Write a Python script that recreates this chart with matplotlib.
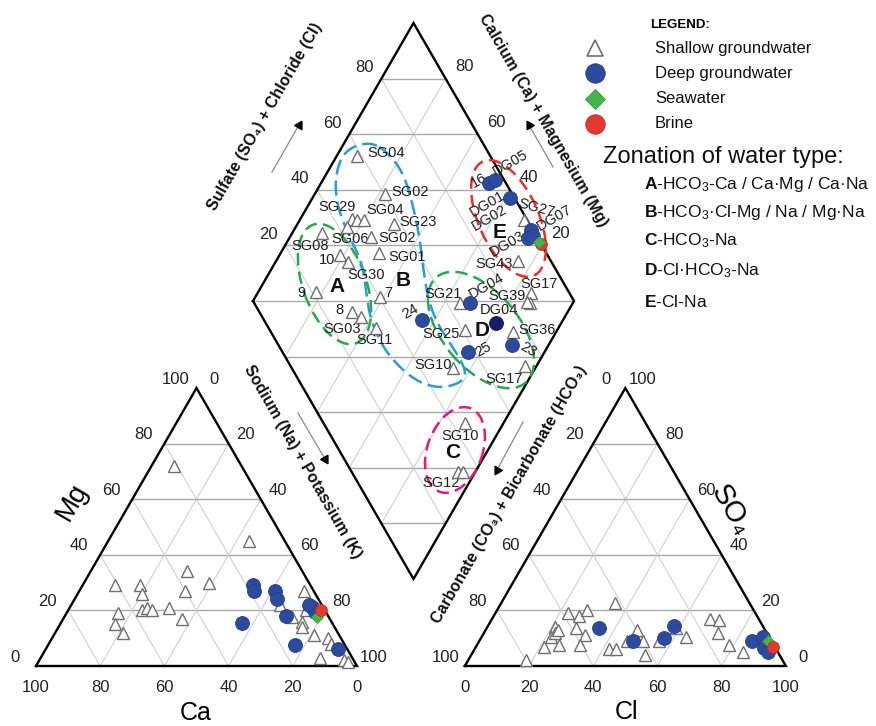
import numpy as np
import matplotlib
matplotlib.use("Agg")
import matplotlib.pyplot as plt
from matplotlib.patches import Ellipse

plt.rcParams['font.family'] = ['Liberation Sans', 'DejaVu Sans']
plt.rcParams['mathtext.fontset'] = 'custom'
plt.rcParams['mathtext.rm'] = 'Liberation Sans'
plt.rcParams['mathtext.bf'] = 'Liberation Sans:bold'
plt.rcParams['mathtext.it'] = 'Liberation Sans:italic'

# ---------------- data (percent) ----------------
# cation triangle: Ca, Mg, Na+K
shallow_ca = [21, 11, 36, 31, 40, 61, 53, 54, 57, 55, 54, 48, 46, 65, 68, 67,
              3, 13, 11.5, 9, 10, 8, 4, 4, 10, 3, 2, 6]
shallow_mg = [72, 45, 34, 30, 27, 29, 29, 26, 20, 21, 20, 21, 17, 19, 15, 12,
              27, 22, 17.7, 16, 14, 11, 10, 8, 3, 2, 1.5, 20]
shallow_na = [7, 44, 30, 39, 33, 10, 18, 20, 23, 24, 26, 31, 37, 16, 17, 21,
              70, 65, 70.8, 75, 76, 81, 86, 88, 87, 95, 96.5, 74]
deep_ca = [18, 18.5, 12, 13, 13, 28, 15.5, 3.5, 3.4, 3, 4]
deep_mg = [29, 27, 27, 24, 18, 15.5, 7.5, 21.3, 19.5, 6, 22]
deep_na = [53, 54.5, 61, 63, 69, 56.5, 77, 75.2, 77.1, 91, 74]
sea_cat = [3.6, 17.5, 78.9]      # Ca, Mg, Na
brine_cat = [1.3, 20.1, 78.6]

# anion triangle: HCO3+CO3, SO4, Cl
shallow_hco3 = [42, 58.5, 55.5, 52, 65, 58.5, 57, 68, 67, 72, 60.5, 80, 52, 50,
                40, 40, 42, 45, 35, 27.5, 26, 15, 12.5, 15, 14, 11, 66, 64.5]
shallow_so4 = [22.5, 19, 18, 20, 14, 13.5, 11, 10.5, 7.5, 7, 7.5, 2, 6, 6,
               13, 9, 4, 9, 9, 13.5, 10.5, 17, 16.5, 12, 7.5, 5, 12, 13]
shallow_cl = [35.5, 22.5, 26.5, 28, 21, 28, 32, 21.5, 25.5, 21, 32, 18, 42, 44,
              47, 51, 54, 46, 56, 59, 63.5, 68, 71, 73, 78.5, 84, 22, 22.5]
deep_hco3 = [51.5, 43, 33, 27.5, 6, 2, 3.5, 3]
deep_so4 = [13.5, 9, 10, 14.5, 9, 10.5, 6.5, 5]
deep_cl = [35, 48, 57, 58, 85, 87.5, 90, 92]
sea_an = [1, 9, 90]              # HCO3, SO4, Cl
brine_an = [0.5, 7, 92.5]

# diamond: Na+K (%) and SO4+Cl (%)
dia_sh_names = ["SG04", "SG02", "SG29", "", "SG04", "SG23", "SG06", "SG08",
                "SG02", "SG01", "10", "SG30", "9", "7", "8", "SG03", "SG11",
                "SG27", "SG43", "SG17", "SG39", "", "SG21", "SG36", "SG25",
                "SG10", "SG17", "SG10", "SG12", ""]
dia_sh_na = [6.5, 21.8, 16.0, 17.9, 20.1, 30.0, 15.8, 9.1, 25.3, 30.6, 18.8,
             22.6, 17.9, 38.8, 32.6, 36.4, 43.2, 69.8, 75.5, 85.2, 86.7, 85.5,
             64.8, 86.4, 71.2, 74.5, 96.3, 87.9, 94.7, 96.2]
dia_sh_an = [58.5, 60.4, 45.4, 47.1, 49.1, 57.8, 42.6, 33.7, 48.3, 48.0, 35.4,
             36.8, 21.3, 40.4, 28.8, 30.8, 33.4, 99.0, 89.8, 88.0, 85.9, 85.0,
             64.2, 75.4, 60.8, 50.3, 73.0, 44.1, 33.3, 34.8]
dia_dp_names = ["24", "16", "DG05", "DG01", "DG07", "DG03", "", "DG04", "23", "25"]
dia_dp_na = [56.0, 52.4, 53.6, 61.6, 74.0, 74.5, 75.5, 68.0, 88.5, 76.3]
dia_dp_an = [49.2, 94.8, 97.2, 98.6, 99.5, 97.0, 98.9, 67.2, 72.7, 57.9]
dia_navy = [79.6, 71.8]          # DG04 (second)
dia_sea = [78.5, 99.8]
dia_brine = [79.5, 99.9]

ticks = [0, 20, 40, 60, 80, 100]
zone_labels = [r"$\mathbf{A}$-HCO$_3$-Ca / Ca·Mg / Ca·Na",
               r"$\mathbf{B}$-HCO$_3$·Cl-Mg / Na / Mg·Na",
               r"$\mathbf{C}$-HCO$_3$-Na",
               r"$\mathbf{D}$-Cl·HCO$_3$-Na",
               r"$\mathbf{E}$-Cl-Na"]
legend_labels = ["Shallow groundwater", "Deep groundwater", "Seawater", "Brine"]

# ---------------- geometry ----------------
W, H = 876, 726
S = 321.0
h = np.sqrt(3) / 2
OX, OY = 36, 666
R0 = 1.336
DX, DY = 1.176, 0.271

fig = plt.figure(figsize=(W / 100, H / 100), dpi=100)
ax = fig.add_axes([0, 0, 1, 1])
ax.set_xlim(-OX / S, (W - OX) / S)
ax.set_ylim((OY - H) / S, OY / S)
ax.axis('off')


def P(px, py):
    return ((px - OX) / S, (OY - py) / S)


def cat_xy(ca, mg, na):
    ca, mg, na = (np.asarray(v, float) for v in (ca, mg, na))
    t = ca + mg + na
    return na / t + mg / t / 2, mg / t * h


def an_xy(hc, so4, cl):
    hc, so4, cl = (np.asarray(v, float) for v in (hc, so4, cl))
    t = hc + so4 + cl
    return R0 + cl / t + so4 / t / 2, so4 / t * h


def dia_xy(na, an):
    n = np.asarray(na, float) / 100
    a = np.asarray(an, float) / 100
    p = 1 - n
    return DX - 0.5 * p + 0.5 * a, DY + h * (p + a)


HC = '#a9a9a9'
DC = '#d0d0d0'


def line(p, q, **kw):
    ax.plot([p[0], q[0]], [p[1], q[1]], **kw)


# grids
for v in [20, 40, 60, 80]:
    w = 100 - v
    line(cat_xy(w, v, 0), cat_xy(0, v, w), color=HC, lw=1.0, zorder=1)
    line(cat_xy(w, 0, v), cat_xy(0, w, v), color=DC, lw=0.8, zorder=1)
    line(cat_xy(v, 0, w), cat_xy(v, w, 0), color=DC, lw=0.8, zorder=1)
    line(an_xy(w, v, 0), an_xy(0, v, w), color=HC, lw=1.0, zorder=1)
    line(an_xy(w, 0, v), an_xy(0, w, v), color=DC, lw=0.8, zorder=1)
    line(an_xy(v, 0, w), an_xy(v, w, 0), color=DC, lw=0.8, zorder=1)
    line(dia_xy(v, 0), dia_xy(v, 100), color=DC, lw=0.8, zorder=1)
    line(dia_xy(0, v), dia_xy(100, v), color=DC, lw=0.8, zorder=1)
for k in range(1, 10):
    s = k * 0.2
    half = min(s, 2 - s) / 2
    yy = DY + h * s
    ax.plot([DX - half, DX + half], [yy, yy], color=HC, lw=1.0, zorder=1)

# outlines
ox = dict(color='black', lw=1.7, zorder=3, solid_joinstyle='miter')
ax.plot(*zip(cat_xy(100, 0, 0), cat_xy(0, 0, 100), cat_xy(0, 100, 0), cat_xy(100, 0, 0)), **ox)
ax.plot(*zip(an_xy(100, 0, 0), an_xy(0, 0, 100), an_xy(0, 100, 0), an_xy(100, 0, 0)), **ox)
ax.plot(*zip(dia_xy(0, 0), dia_xy(0, 100), dia_xy(100, 100), dia_xy(100, 0), dia_xy(0, 0)), **ox)

# tick labels
TK = dict(fontsize=12, color='#222222', ha='center', va='center', zorder=4)


def tlabel(pt, dx, dy, s, **kw):
    d = dict(TK)
    d.update(kw)
    ax.text(pt[0] + dx / S, pt[1] - dy / S, s, **d)


for v in ticks:
    tlabel(cat_xy(v, 0, 100 - v), 0, 22, str(v))
    tlabel(cat_xy(100 - v, v, 0), -21, -9, str(v))
    tlabel(cat_xy(0, 100 - v, v), 17, -9, str(v))
    tlabel(an_xy(100 - v, 0, v), 0, 22, str(v))
    tlabel(an_xy(v, 100 - v, 0), -19, -9, str(v))
    tlabel(an_xy(0, v, 100 - v), 17, -9, str(v))
for v in [20, 40, 60, 80]:
    tlabel(dia_xy(0, v), -17, -11, str(v))
    tlabel(dia_xy(v, 100), 19, -12, str(100 - v))

# axis titles
AT = dict(fontsize=11.5, fontweight='bold', color='#111111', ha='center', va='center')
ax.text(*P(265, 117), "Sulfate (SO₄) + Chloride (Cl)", rotation=60, **AT)
ax.text(*P(543, 120), "Calcium (Ca) + Magnesium (Mg)", rotation=-60, **AT)
ax.text(*P(303, 462), "Sodium (Na) + Potassium (K)", rotation=-60, **AT)
ax.text(*P(509, 495), "Carbonate (CO₃) + Bicarbonate (HCO₃)", rotation=60, **AT)

# arrows
for (p0, p1, ang) in [((272, 172), (299, 125), -30), ((553, 167), (529, 125), 30),
                      ((298, 413), (325, 459), -150), ((523, 422), (497, 470), 150)]:
    a0, a1 = P(*p0), P(*p1)
    line(a0, a1, color='#8a8a8a', lw=0.9, zorder=2)
    ax.plot(*a1, marker=(3, 0, ang), ms=7, color='black', mec='black', zorder=3)

# big axis labels
ax.text(*P(72, 502), "Mg", fontsize=20, rotation=60, ha='center', va='center')
ax.text(*P(196, 713), "Ca", fontsize=18, ha='center', va='center')
ax.text(*P(626, 712), "Cl", fontsize=18, ha='center', va='center')
ax.text(*P(731, 510), "SO₄", fontsize=21, rotation=-60, ha='center', va='center')

# ---------------- markers ----------------
TRI = dict(ls='none', marker='^', ms=8.5, mfc='white', mec='#6e6e6e', mew=1.0, zorder=6)
BLU = dict(ls='none', marker='o', ms=10, mfc='#2d4b9e', mec='#24407f', mew=0.6, zorder=7)
NAV = dict(ls='none', marker='o', ms=10, mfc='#1b1a6b', mec='#141450', mew=0.6, zorder=7)
GRN = dict(ls='none', marker='D', ms=6.5, mfc='#46b549', mec='#3a9a3d', mew=0.6, zorder=9)
RED = dict(ls='none', marker='o', ms=8.5, mfc='#e23a2e', mec='#c42a20', mew=0.6, zorder=8)

ax.plot(*cat_xy(shallow_ca, shallow_mg, shallow_na), **TRI)
ax.plot(*cat_xy(deep_ca, deep_mg, deep_na), **BLU)
ax.plot(*cat_xy(*sea_cat), **GRN)
ax.plot(*cat_xy(*brine_cat), **dict(RED, zorder=10))

ax.plot(*an_xy(shallow_hco3, shallow_so4, shallow_cl), **TRI)
ax.plot(*an_xy(deep_hco3, deep_so4, deep_cl), **BLU)
ax.plot(*an_xy(*sea_an), **GRN)
ax.plot(*an_xy(*brine_an), **dict(RED, zorder=10))

sx, sy = dia_xy(dia_sh_na, dia_sh_an)
dx_, dy_ = dia_xy(dia_dp_na, dia_dp_an)
ax.plot(sx, sy, **TRI)
ax.plot(dx_, dy_, **BLU)
ax.plot(*dia_xy(*dia_navy), **NAV)
ax.plot(*dia_xy(*dia_brine), **RED)
ax.plot(*dia_xy(*dia_sea), **GRN)

# sample labels (offsets in pixels: dx right, dy down, rotation)
LB = dict(fontsize=10.5, color='#1e1e1e', ha='center', va='center', zorder=5)
sh_off = {0: (29, -3, 0), 1: (25, -2, 0), 2: (-15, -12, 0), 4: (21, -10, 0),
          5: (24, -2, 0), 6: (3, 12, 0), 7: (-12, 13, 0), 8: (26, 1, 0),
          9: (28, 4, 0), 10: (-13, 5, 0), 11: (18, 13, 0), 12: (-14, 1, 0),
          13: (8, -4, 0), 14: (-12, -2, 0), 15: (-19, 12, 0), 16: (-1, 12, 0),
          17: (13, -12, -15), 18: (-24, 3, 0), 19: (8, -9, 0), 20: (-23, -7, 0),
          22: (-17, -9, 0), 23: (24, -2, 0), 24: (-24, 4, 0), 25: (-20, -3, 0),
          26: (-21, 13, 0), 27: (-5, 13, 0), 28: (-17, 11, 0)}
for i, (ddx, ddy, rot) in sh_off.items():
    ax.text(sx[i] + ddx / S, sy[i] - ddy / S, dia_sh_names[i], rotation=rot, **LB)
dp_off = {0: (-12, -8, 30), 1: (-10, -3, 30), 2: (15, -17, 30), 3: (-23, 6, 30),
          4: (23, -12, 30), 5: (-21, 5, 30), 7: (16, -17, 30), 8: (17, 5, -30),
          9: (15, -3, 30)}
for i, (ddx, ddy, rot) in dp_off.items():
    ax.text(dx_[i] + ddx / S, dy_[i] - ddy / S, dia_dp_names[i], rotation=rot, **LB)
ax.text(dx_[3] - 21 / S, dy_[3] - 20 / S, "DG02", rotation=30, **LB)
nx, ny = dia_xy(*dia_navy)
ax.text(nx + 3 / S, ny + 13 / S, "DG04", **LB)

# zone letters
ZL = dict(fontsize=15, fontweight='bold', color='#111111', ha='center', va='center', zorder=5)
for s, (px, py) in zip("ABCDE", [(337, 287), (403, 280), (453, 453), (482, 331), (500, 232)]):
    ax.text(*P(px, py), s, **ZL)

# zone outlines
DASH = (0, (5, 2.5))
for (cx, cy, w, hh, ang, col) in [(334.5, 284, 126, 63, -70, '#2aa84a'),
                                  (508.5, 218.5, 125, 60, -66, '#e8302a'),
                                  (481, 330, 138, 76, -50, '#2aa84a'),
                                  (455, 450, 89, 55, 70, '#e8177c')]:
    ax.add_patch(Ellipse(P(cx, cy), w / S, hh / S, angle=ang, fill=False,
                         ec=col, lw=1.8, ls=DASH, zorder=4))


def chaikin(pts, it=3):
    pts = np.asarray(pts, float)
    for _ in range(it):
        p1 = np.roll(pts, -1, axis=0)
        q = 0.75 * pts + 0.25 * p1
        r = 0.25 * pts + 0.75 * p1
        out = np.empty((2 * len(pts), 2))
        out[0::2] = q
        out[1::2] = r
        pts = out
    return pts


b_pix = [(373, 143), (387, 152), (403, 172), (413, 205), (420, 240), (424, 275),
         (429, 302), (438, 325), (452, 346), (463, 364), (466, 376), (458, 384),
         (440, 388), (420, 383), (400, 368), (382, 346), (370, 318), (366, 290),
         (362, 262), (348, 234), (337, 205), (335, 178), (342, 155), (356, 145)]
bp = chaikin(b_pix)
bp = np.vstack([bp, bp[:1]])
bx, by = P(bp[:, 0], bp[:, 1])
ax.plot(bx, by, color='#2b9ad8', lw=1.8, ls=(0, (6, 2.5)), zorder=4)

# ---------------- legend ----------------
ax.text(*P(650, 25), "LEGEND:", fontsize=9.5, fontweight='bold', ha='left', va='center')
leg_styles = [dict(TRI, ms=12, mew=1.2), dict(BLU, ms=14), dict(GRN, ms=10), dict(RED, ms=14)]
for k, (lab, st) in enumerate(zip(legend_labels, leg_styles)):
    yy = 48 + k * 25.3
    ax.plot(*P(595, yy), **st)
    ax.text(*P(655, yy), lab, fontsize=12, ha='left', va='center', color='#111111')
ax.text(*P(603, 157), "Zonation of water type:", fontsize=17, ha='left', va='center',
        color='#111111')
for k, lab in enumerate(zone_labels):
    yy = [184, 212, 241, 271, 302][k]
    ax.text(*P(644, yy), lab, fontsize=12.5, ha='left', va='center', color='#111111')

fig.savefig("out.png", dpi=100)
